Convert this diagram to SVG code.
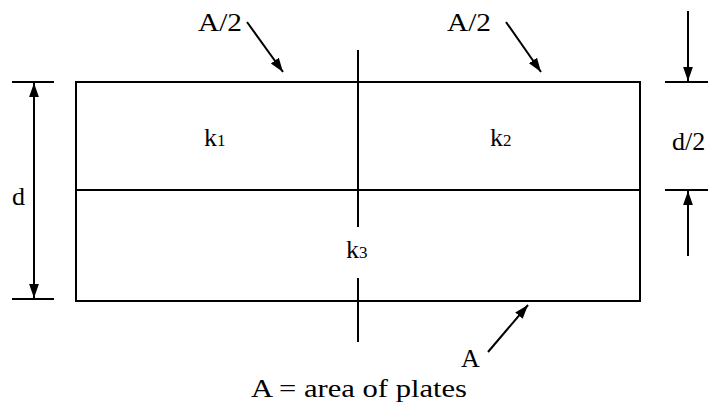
<svg xmlns="http://www.w3.org/2000/svg" width="708" height="410" viewBox="0 0 708 410">
<defs>
<style>
.ln{stroke:#000;stroke-width:2;fill:none}
.t{font-family:"Liberation Serif","Times New Roman","DejaVu Serif",serif;font-size:26px;fill:#000}
.s{font-size:17px}
</style>
<marker id="ahb" viewBox="0 0 10 10" refX="10" refY="5" markerWidth="14" markerHeight="14" orient="auto" markerUnits="userSpaceOnUse">
<path d="M0,1.5 L10,5 L0,8.5 z" fill="#000"/>
</marker>
</defs>
<rect width="708" height="410" fill="#fff"/>
<g id="capacitor">
<rect x="76" y="82" width="564" height="219" class="ln"/>
<line x1="76" y1="190" x2="640" y2="190" class="ln"/>
<line x1="358" y1="50" x2="358" y2="227" class="ln"/>
<line x1="358" y1="278" x2="358" y2="342" class="ln"/>
</g>
<g id="k1"><text class="t" x="204" y="146">k<tspan class="s">1</tspan></text></g>
<g id="k2"><text class="t" x="490" y="146">k<tspan class="s">2</tspan></text></g>
<g id="k3"><text class="t" x="346" y="258">k<tspan class="s">3</tspan></text></g>
<g id="labels">
<text class="t" x="198" y="31" textLength="44" lengthAdjust="spacingAndGlyphs">A/2</text>
<text class="t" x="447" y="31" textLength="44" lengthAdjust="spacingAndGlyphs">A/2</text>
<text class="t" x="12" y="205">d</text>
<text class="t" x="672" y="150">d/2</text>
<text class="t" x="461" y="367">A</text>
<text class="t" x="251" y="397" textLength="216" lengthAdjust="spacingAndGlyphs">A = area of plates</text>
</g>
<g id="connectors">
<line x1="12" y1="82" x2="54" y2="82" class="ln"/>
<line x1="12" y1="299" x2="54" y2="299" class="ln"/>
<line x1="34" y1="190" x2="34" y2="83" class="ln" marker-end="url(#ahb)"/>
<line x1="34" y1="190" x2="34" y2="298" class="ln" marker-end="url(#ahb)"/>
<line x1="665" y1="82" x2="708" y2="82" class="ln"/>
<line x1="665" y1="190" x2="708" y2="190" class="ln"/>
<line x1="688" y1="11" x2="688" y2="81" class="ln" marker-end="url(#ahb)"/>
<line x1="688" y1="256" x2="688" y2="191" class="ln" marker-end="url(#ahb)"/>
<line x1="247" y1="22" x2="283" y2="72" class="ln" marker-end="url(#ahb)"/>
<line x1="506" y1="22" x2="541" y2="72" class="ln" marker-end="url(#ahb)"/>
<line x1="488" y1="352" x2="528" y2="305" class="ln" marker-end="url(#ahb)"/>
</g>
</svg>
